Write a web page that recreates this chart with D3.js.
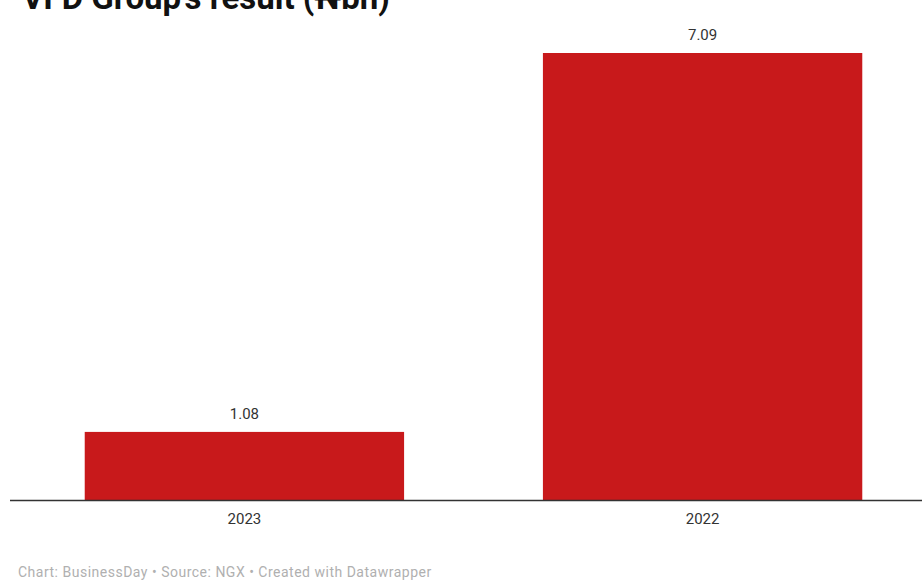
<!DOCTYPE html>
<meta charset="utf-8">
<script src="https://d3js.org/d3.v7.min.js"></script>
<style>
  body { margin: 0; background: #fff; }
  svg { font-family: Roboto, "Noto Sans", sans-serif; }
</style>
<body>
<svg id="chart" width="922" height="582"></svg>
<script>
// data
var years = ["2023", "2022"];
var values = [1.08, 7.09];
var valueLabels = ["1.08", "7.09"];

var svg = d3.select("#chart");

var baseY = 500;

var x = d3.scaleBand()
    .domain(years)
    .range([16, 931])
    .paddingInner(0.303)
    .paddingOuter(0.15);

var y = d3.scaleLinear()
    .domain([0, 7.09])
    .range([baseY, 53]);

// title (cut off at the top like the reference)
svg.append("text")
    .attr("x", 22)
    .attr("y", 9)
    .attr("font-size", 33)
    .attr("font-weight", "bold")
    .attr("fill", "#111")
    .text("VFD Group's result (₦bn)");

// bars
svg.append("g")
  .selectAll("rect")
  .data(years)
  .enter()
  .append("rect")
    .attr("x", function(d) { return x(d); })
    .attr("y", function(d, i) { return y(values[i]); })
    .attr("width", x.bandwidth())
    .attr("height", function(d, i) { return baseY - y(values[i]); })
    .attr("fill", "#c8191b");

// value labels
svg.append("g")
  .selectAll("text")
  .data(years)
  .enter()
  .append("text")
    .attr("x", function(d) { return x(d) + x.bandwidth() / 2; })
    .attr("y", function(d, i) { return y(values[i]) - 13; })
    .attr("text-anchor", "middle")
    .attr("font-size", 15)
    .attr("fill", "#333")
    .text(function(d, i) { return valueLabels[i]; });

// x axis
var xAxis = svg.append("g")
    .attr("transform", "translate(0," + baseY + ")")
    .call(d3.axisBottom(x).tickSize(0).tickPadding(13));
xAxis.select(".domain").remove();
xAxis.selectAll("text")
    .attr("font-size", 15)
    .attr("font-family", "Roboto, sans-serif")
    .attr("fill", "#333");
svg.append("line")
    .attr("x1", 10).attr("x2", 922)
    .attr("y1", baseY + 0.5).attr("y2", baseY + 0.5)
    .attr("stroke", "#333")
    .attr("stroke-width", 1.3);

// footer
svg.append("text")
    .attr("x", 18)
    .attr("y", 577)
    .attr("font-size", 14)
    .attr("letter-spacing", 0.5)
    .attr("fill", "#b0b0b0")
    .text("Chart: BusinessDay • Source: NGX • Created with Datawrapper");
</script>
</body>
